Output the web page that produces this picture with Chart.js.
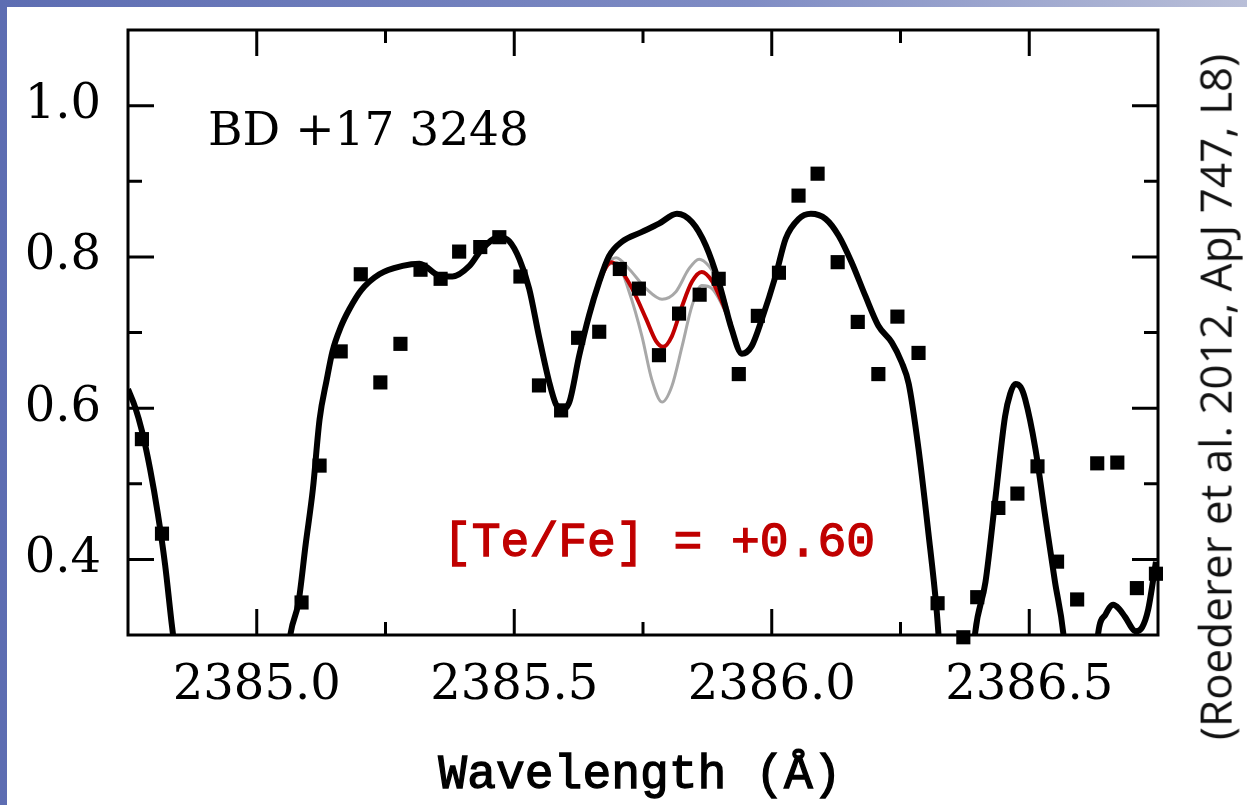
<!DOCTYPE html>
<html>
<head>
<meta charset="utf-8">
<script src="https://cdn.jsdelivr.net/npm/chart.js@4.4.1/dist/chart.umd.min.js"></script>
<style>
  html, body { margin: 0; padding: 0; }
  #page {
    position: relative;
    width: 1247px;
    height: 805px;
    overflow: hidden;
    background: linear-gradient(90deg, #5d6db2 0%, #7f8cc4 60%, #b9bfd8 100%);
  }
  #paper {
    position: absolute;
    left: 7px;
    top: 7px;
    right: 0;
    bottom: 0;
    background: #fff;
  }
  #chart { position: absolute; left: 0; top: 0; }
  #cite {
    position: absolute;
    left: 1215px;
    top: 397px;
    transform-origin: 0 0;
    transform: rotate(-90deg) translate(-50%, -50%);
    white-space: nowrap;
    font-family: "Open Sans", sans-serif;
    font-size: 44px;
    line-height: 1.2;
    color: #111;
  }
</style>
</head>
<body>
<div id="page">
  <div id="paper"></div>
  <canvas id="chart" width="1247" height="805"></canvas>
  <div id="cite">(Roederer et al. 2012, ApJ 747, L8)</div>
</div>
<script>
// observed spectrum (squares)
const obsWave = [2384.777, 2384.816, 2385.087, 2385.122, 2385.163, 2385.202, 2385.240, 2385.279,
  2385.318, 2385.357, 2385.393, 2385.434, 2385.471, 2385.512, 2385.548, 2385.591, 2385.624,
  2385.665, 2385.705, 2385.742, 2385.781, 2385.820, 2385.860, 2385.897, 2385.936, 2385.973,
  2386.014, 2386.052, 2386.089, 2386.128, 2386.167, 2386.207, 2386.244, 2386.285, 2386.322,
  2386.372, 2386.399, 2386.440, 2386.477, 2386.516, 2386.554, 2386.593, 2386.632, 2386.671,
  2386.709, 2386.746]
const obsFlux = [0.559, 0.434, 0.343, 0.524, 0.675, 0.777, 0.634, 0.685,
  0.783, 0.771, 0.807, 0.813, 0.826, 0.774, 0.630, 0.597, 0.693,
  0.701, 0.784, 0.758, 0.670, 0.725, 0.750, 0.771, 0.645, 0.722,
  0.779, 0.881, 0.910, 0.793, 0.714, 0.645, 0.721, 0.673, 0.342,
  0.297, 0.350, 0.468, 0.487, 0.523, 0.397, 0.347, 0.527, 0.528,
  0.362, 0.381]

// synthetic spectrum without Te (black); null = gap where the line leaves the frame
const modelWave = [2384.750, 2384.764, 2384.777, 2384.793, 2384.808, 2384.822, 2384.835, 2384.843,
  2384.950,
  2385.060, 2385.066, 2385.081, 2385.095, 2385.109, 2385.122, 2385.136, 2385.147, 2385.163,
  2385.180, 2385.203, 2385.238, 2385.283, 2385.316, 2385.355, 2385.380, 2385.413, 2385.438,
  2385.471, 2385.490, 2385.510, 2385.529, 2385.548, 2385.568, 2385.581, 2385.593, 2385.607,
  2385.626, 2385.645, 2385.665, 2385.684, 2385.709, 2385.748, 2385.781, 2385.816, 2385.845,
  2385.872, 2385.897, 2385.922, 2385.942, 2385.961, 2385.981, 2386.008, 2386.027, 2386.052,
  2386.076, 2386.105, 2386.130, 2386.155, 2386.182, 2386.207, 2386.233, 2386.252, 2386.266,
  2386.285, 2386.304, 2386.320, 2386.327,
  2386.360,
  2386.391, 2386.395, 2386.415, 2386.434, 2386.453, 2386.463, 2386.473, 2386.483, 2386.492,
  2386.512, 2386.531, 2386.550, 2386.566, 2386.570,
  2386.600,
  2386.630, 2386.634, 2386.648, 2386.663, 2386.674, 2386.686, 2386.707, 2386.719, 2386.731,
  2386.746]
const modelFlux = [0.625, 0.601, 0.570, 0.519, 0.460, 0.393, 0.314, 0.270,
  null,
  0.270, 0.303, 0.343, 0.420, 0.493, 0.585, 0.638, 0.675, 0.707,
  0.731, 0.756, 0.777, 0.788, 0.791, 0.775, 0.774, 0.788, 0.811,
  0.826, 0.821, 0.797, 0.758, 0.695, 0.634, 0.605, 0.599, 0.608,
  0.669, 0.722, 0.767, 0.801, 0.820, 0.833, 0.844, 0.857, 0.846,
  0.815, 0.767, 0.705, 0.672, 0.682, 0.718, 0.776, 0.824, 0.850,
  0.857, 0.850, 0.828, 0.793, 0.748, 0.709, 0.687, 0.661, 0.632,
  0.546, 0.436, 0.334, 0.270,
  null,
  0.270, 0.303, 0.370, 0.479, 0.589, 0.619, 0.632, 0.628, 0.612,
  0.546, 0.457, 0.370, 0.303, 0.270,
  null,
  0.270, 0.303, 0.327, 0.340, 0.335, 0.324, 0.305, 0.310, 0.334,
  0.397]

// best fit [Te/Fe] = +0.60 (red)
const fitWave = [2385.659, 2385.674, 2385.688, 2385.703, 2385.729, 2385.756, 2385.775, 2385.789,
  2385.806, 2385.826, 2385.845, 2385.864, 2385.884, 2385.901, 2385.921]
const fitFlux = [0.754, 0.781, 0.793, 0.786, 0.758, 0.718, 0.689, 0.681,
  0.695, 0.735, 0.767, 0.780, 0.768, 0.744, 0.711]

// +/- bracketing fits (gray)
const upperWave = [2385.674, 2385.698, 2385.723, 2385.756, 2385.787, 2385.814, 2385.839, 2385.859,
  2385.878, 2385.897, 2385.917]
const upperFlux = [0.791, 0.799, 0.784, 0.758, 0.744, 0.754, 0.784, 0.797,
  0.788, 0.767, 0.725]
const lowerWave = [2385.674, 2385.698, 2385.723, 2385.748, 2385.767, 2385.787, 2385.806, 2385.826,
  2385.845, 2385.864, 2385.884, 2385.901, 2385.921]
const lowerFlux = [0.787, 0.793, 0.754, 0.695, 0.638, 0.608, 0.629, 0.682,
  0.735, 0.762, 0.758, 0.740, 0.709]

const xTicks = [2385.0, 2385.5, 2386.0, 2386.5]
const xMinor = [2385.25, 2385.75, 2386.25]
const yTicks = [0.4, 0.6, 0.8, 1.0]
const yMinor = [0.5, 0.7, 0.9]

const toPoints = (xs, ys) => xs.map((x, i) => ({ x: x, y: ys[i] }))

// typewriter text with a slightly heavier stroke
function heavyText(ctx, text, x, y, color) {
  ctx.fillStyle = color
  ctx.strokeStyle = color
  ctx.lineWidth = 1.3
  ctx.fillText(text, x, y)
  ctx.strokeText(text, x, y)
}

// frame with inward ticks on all four sides, plus the text labels
const frameTicks = {
  id: 'frameTicks',
  afterDraw(chart) {
    const { ctx, chartArea: a, scales: { x, y } } = chart
    ctx.save()
    ctx.strokeStyle = '#000'
    ctx.lineWidth = 3
    ctx.lineCap = 'butt'
    ctx.strokeRect(a.left, a.top, a.right - a.left, a.bottom - a.top)
    const tick = (vals, len) => {
      vals.forEach(v => {
        const px = x.getPixelForValue(v)
        ctx.beginPath()
        ctx.moveTo(px, a.bottom); ctx.lineTo(px, a.bottom - len)
        ctx.moveTo(px, a.top); ctx.lineTo(px, a.top + len)
        ctx.stroke()
      })
    }
    const tickY = (vals, len) => {
      vals.forEach(v => {
        const py = y.getPixelForValue(v)
        ctx.beginPath()
        ctx.moveTo(a.left, py); ctx.lineTo(a.left + len, py)
        ctx.moveTo(a.right, py); ctx.lineTo(a.right - len, py)
        ctx.stroke()
      })
    }
    tick(xTicks, 26)
    tick(xMinor, 13)
    tickY(yTicks, 26)
    tickY(yMinor, 14)

    ctx.textBaseline = 'alphabetic'
    ctx.textAlign = 'left'
    ctx.fillStyle = '#000'
    ctx.font = '47px "DejaVu Serif"'
    ctx.fillText('BD +17 3248', a.left + 80, a.top + 115)

    ctx.font = '48px "Liberation Mono"'
    heavyText(ctx, '[Te/Fe] = +0.60', a.left + 315, a.top + 526, '#c00000')

    // x axis title
    ctx.textAlign = 'center'
    heavyText(ctx, 'Wavelength (Å)', (a.left + a.right) / 2 - 3, 788, '#000')
    ctx.restore()
  }
}

new Chart(document.getElementById('chart'), {
  type: 'scatter',
  data: {
    datasets: [
      {
        label: 'Observed',
        data: toPoints(obsWave, obsFlux),
        pointStyle: 'rect',
        pointRadius: 10,
        pointBorderWidth: 0,
        backgroundColor: '#000',
        borderColor: '#000',
        clip: false,
        order: 0
      },
      {
        label: 'No Te',
        data: toPoints(modelWave, modelFlux),
        showLine: true,
        spanGaps: false,
        borderColor: '#000',
        borderWidth: 6,
        pointRadius: 0,
        cubicInterpolationMode: 'monotone',
        order: 1
      },
      {
        label: '[Te/Fe] = +0.60',
        data: toPoints(fitWave, fitFlux),
        showLine: true,
        borderColor: '#c00000',
        borderWidth: 4,
        pointRadius: 0,
        cubicInterpolationMode: 'monotone',
        order: 2
      },
      {
        label: 'upper',
        data: toPoints(upperWave, upperFlux),
        showLine: true,
        borderColor: '#a8a8a8',
        borderWidth: 3,
        pointRadius: 0,
        cubicInterpolationMode: 'monotone',
        order: 3
      },
      {
        label: 'lower',
        data: toPoints(lowerWave, lowerFlux),
        showLine: true,
        borderColor: '#a8a8a8',
        borderWidth: 3,
        pointRadius: 0,
        cubicInterpolationMode: 'monotone',
        order: 3
      }
    ]
  },
  options: {
    responsive: false,
    animation: false,
    layout: { padding: { left: 0, top: 30, right: 89, bottom: 0 } },
    plugins: {
      legend: { display: false },
      tooltip: { enabled: false }
    },
    scales: {
      x: {
        type: 'linear',
        min: 2384.75,
        max: 2386.75,
        afterBuildTicks: axis => { axis.ticks = xTicks.map(v => ({ value: v })) },
        afterFit: axis => {
          axis.height = 170
          axis.paddingLeft = 0
          axis.paddingRight = 0
        },
        grid: { display: false },
        border: { display: false },
        ticks: {
          color: '#000',
          padding: 15,
          maxRotation: 0,
          font: { family: '"DejaVu Serif"', size: 48 },
          callback: v => v.toFixed(1)
        }
      },
      y: {
        type: 'linear',
        min: 0.3,
        max: 1.1,
        afterBuildTicks: axis => { axis.ticks = yTicks.map(v => ({ value: v })) },
        afterFit: axis => {
          axis.width = 128
          axis.paddingTop = 0
          axis.paddingBottom = 0
        },
        grid: { display: false },
        border: { display: false },
        ticks: {
          color: '#000',
          padding: 19,
          font: { family: '"DejaVu Serif"', size: 48 },
          callback: v => v.toFixed(1)
        }
      }
    }
  },
  plugins: [frameTicks]
})
</script>
</body>
</html>
